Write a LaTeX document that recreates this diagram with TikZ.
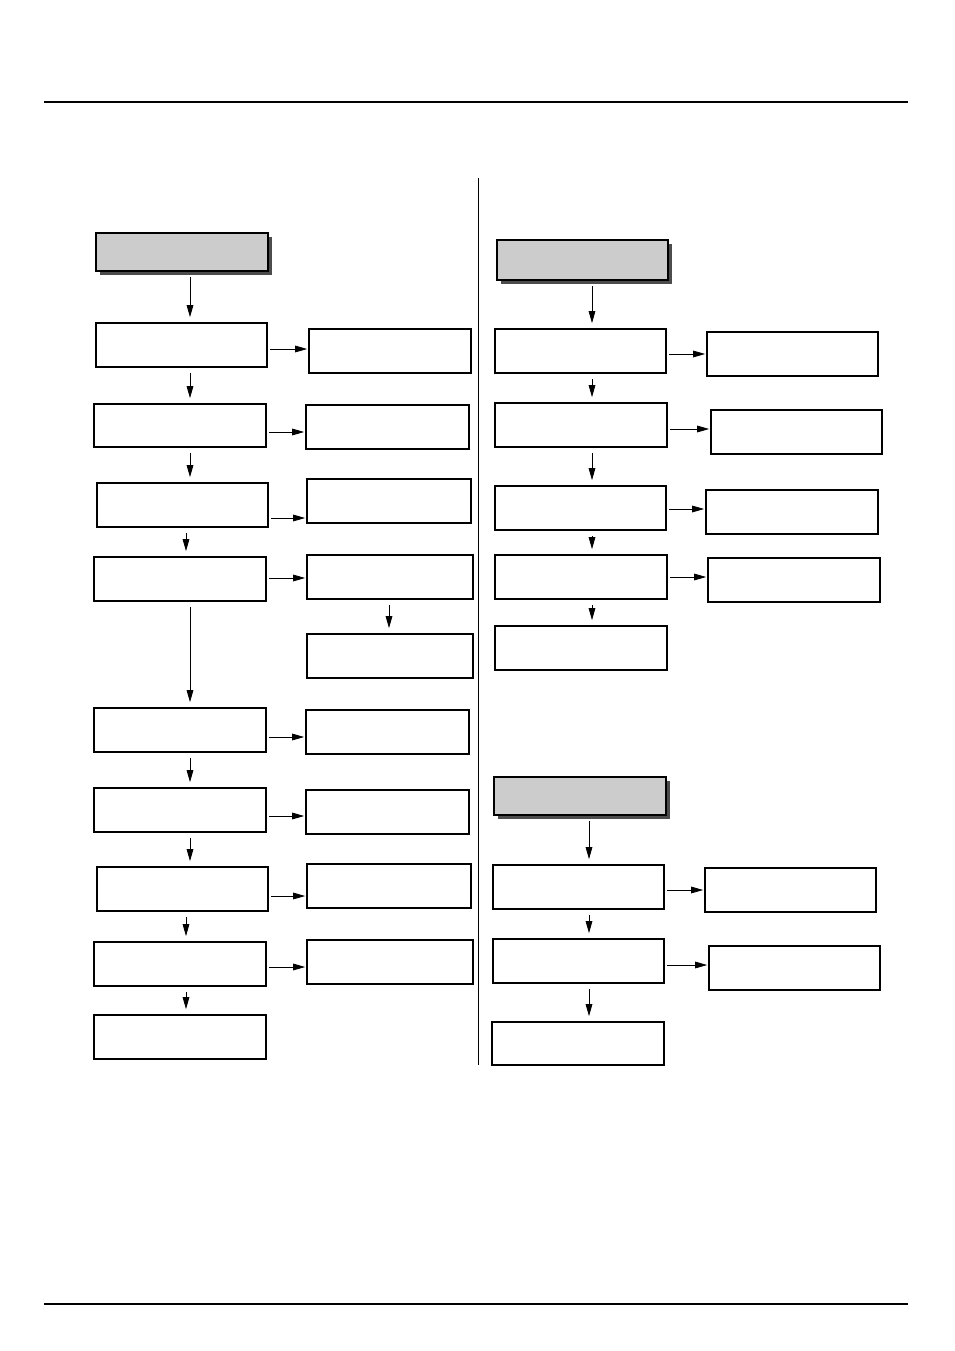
\documentclass[tikz,border=0pt]{standalone}
\usetikzlibrary{arrows.meta}
\newcommand{\bx}[6][box]{\node[#1,minimum width={(#5-#3)*0.75pt},minimum height={(#6-#4)*0.75pt}] (#2) at ({(#3+#5)/2},{(#4+#6)/2}) {};}
\begin{document}
\begin{tikzpicture}[x=0.75pt,y=-0.75pt,
 box/.style={draw,line width=0.8pt,inner sep=0pt,fill=white},
 hbox/.style={box,fill=black!20,drop shadow={shadow xshift=3pt,shadow yshift=-3pt,fill=black!60,opacity=1}},
 arr/.style={-{Triangle[length=9pt,width=5pt]},line width=0.6pt,shorten <=4pt,shorten >=4pt}]
\useasboundingbox (0,0) rectangle (954,1351);
\draw[line width=2.2pt] (44,102) -- (908,102);
\draw[line width=2.2pt] (44,1304) -- (908,1304);
\draw[line width=0.6pt] (478,178) -- (478,1065);
\fill[black!70] (100,237) rectangle (272,275);
\bx[box,fill=black!20]{H1}{96}{233}{268}{271}
\bx{L1}{96}{323}{267}{367}
\bx{L2}{94}{404}{266}{447}
\bx{L3}{97}{483}{268}{527}
\bx{L4}{94}{557}{266}{601}
\bx{L5}{94}{708}{266}{752}
\bx{L6}{94}{788}{266}{832}
\bx{L7}{97}{867}{268}{911}
\bx{L8}{94}{942}{266}{986}
\bx{L9}{94}{1015}{266}{1059}
\bx{R1}{309}{329}{471}{373}
\bx{R2}{306}{405}{469}{449}
\bx{R3}{307}{479}{471}{523}
\bx{R4}{307}{555}{473}{599}
\bx{R4b}{307}{634}{473}{678}
\bx{R5}{306}{710}{469}{754}
\bx{R6}{306}{790}{469}{834}
\bx{R7}{307}{864}{471}{908}
\bx{R8}{307}{940}{473}{984}
\fill[black!70] (501,244) rectangle (672,284);
\bx[box,fill=black!20]{H2}{497}{240}{668}{280}
\bx{M1}{495}{329}{666}{373}
\bx{M2}{495}{403}{667}{447}
\bx{M3}{495}{486}{666}{530}
\bx{M4}{495}{555}{667}{599}
\bx{M5}{495}{626}{667}{670}
\bx{N1}{707}{332}{878}{376}
\bx{N2}{711}{410}{882}{454}
\bx{N3}{706}{490}{878}{534}
\bx{N4}{708}{558}{880}{602}
\fill[black!70] (498,781) rectangle (670,819);
\bx[box,fill=black!20]{H3}{494}{777}{666}{815}
\bx{P1}{493}{865}{664}{909}
\bx{P2}{493}{939}{664}{983}
\bx{P3}{492}{1022}{664}{1065}
\bx{Q1}{705}{868}{876}{912}
\bx{Q2}{709}{946}{880}{990}
% left vertical
\foreach \a/\b/\x in {H1/L1/190,L1/L2/190,L2/L3/190,L3/L4/186,L4/L5/190,L5/L6/190,L6/L7/190,L7/L8/186,L8/L9/186}
 \draw[arr] (\x,0 |- \a.south) -- (\x,0 |- \b.north);
\draw[arr] (389,0 |- R4.south) -- (389,0 |- R4b.north);
\foreach \a/\b/\x in {H2/M1/592,M1/M2/592,M2/M3/592,M3/M4/592,M4/M5/592,H3/P1/589,P1/P2/589,P2/P3/589}
 \draw[arr] (\x,0 |- \a.south) -- (\x,0 |- \b.north);
% horizontal
\foreach \a/\b/\y in {L1/R1/349,L2/R2/432,L3/R3/518,L4/R4/578,L5/R5/737,L6/R6/816,L7/R7/896,L8/R8/967,M1/N1/354,M2/N2/429,M3/N3/509,M4/N4/577,P1/Q1/890,P2/Q2/965}
 \draw[arr,shorten <=2pt,shorten >=1pt] (\a.east |- 0,\y) -- (\b.west |- 0,\y);
\end{tikzpicture}
\end{document}
